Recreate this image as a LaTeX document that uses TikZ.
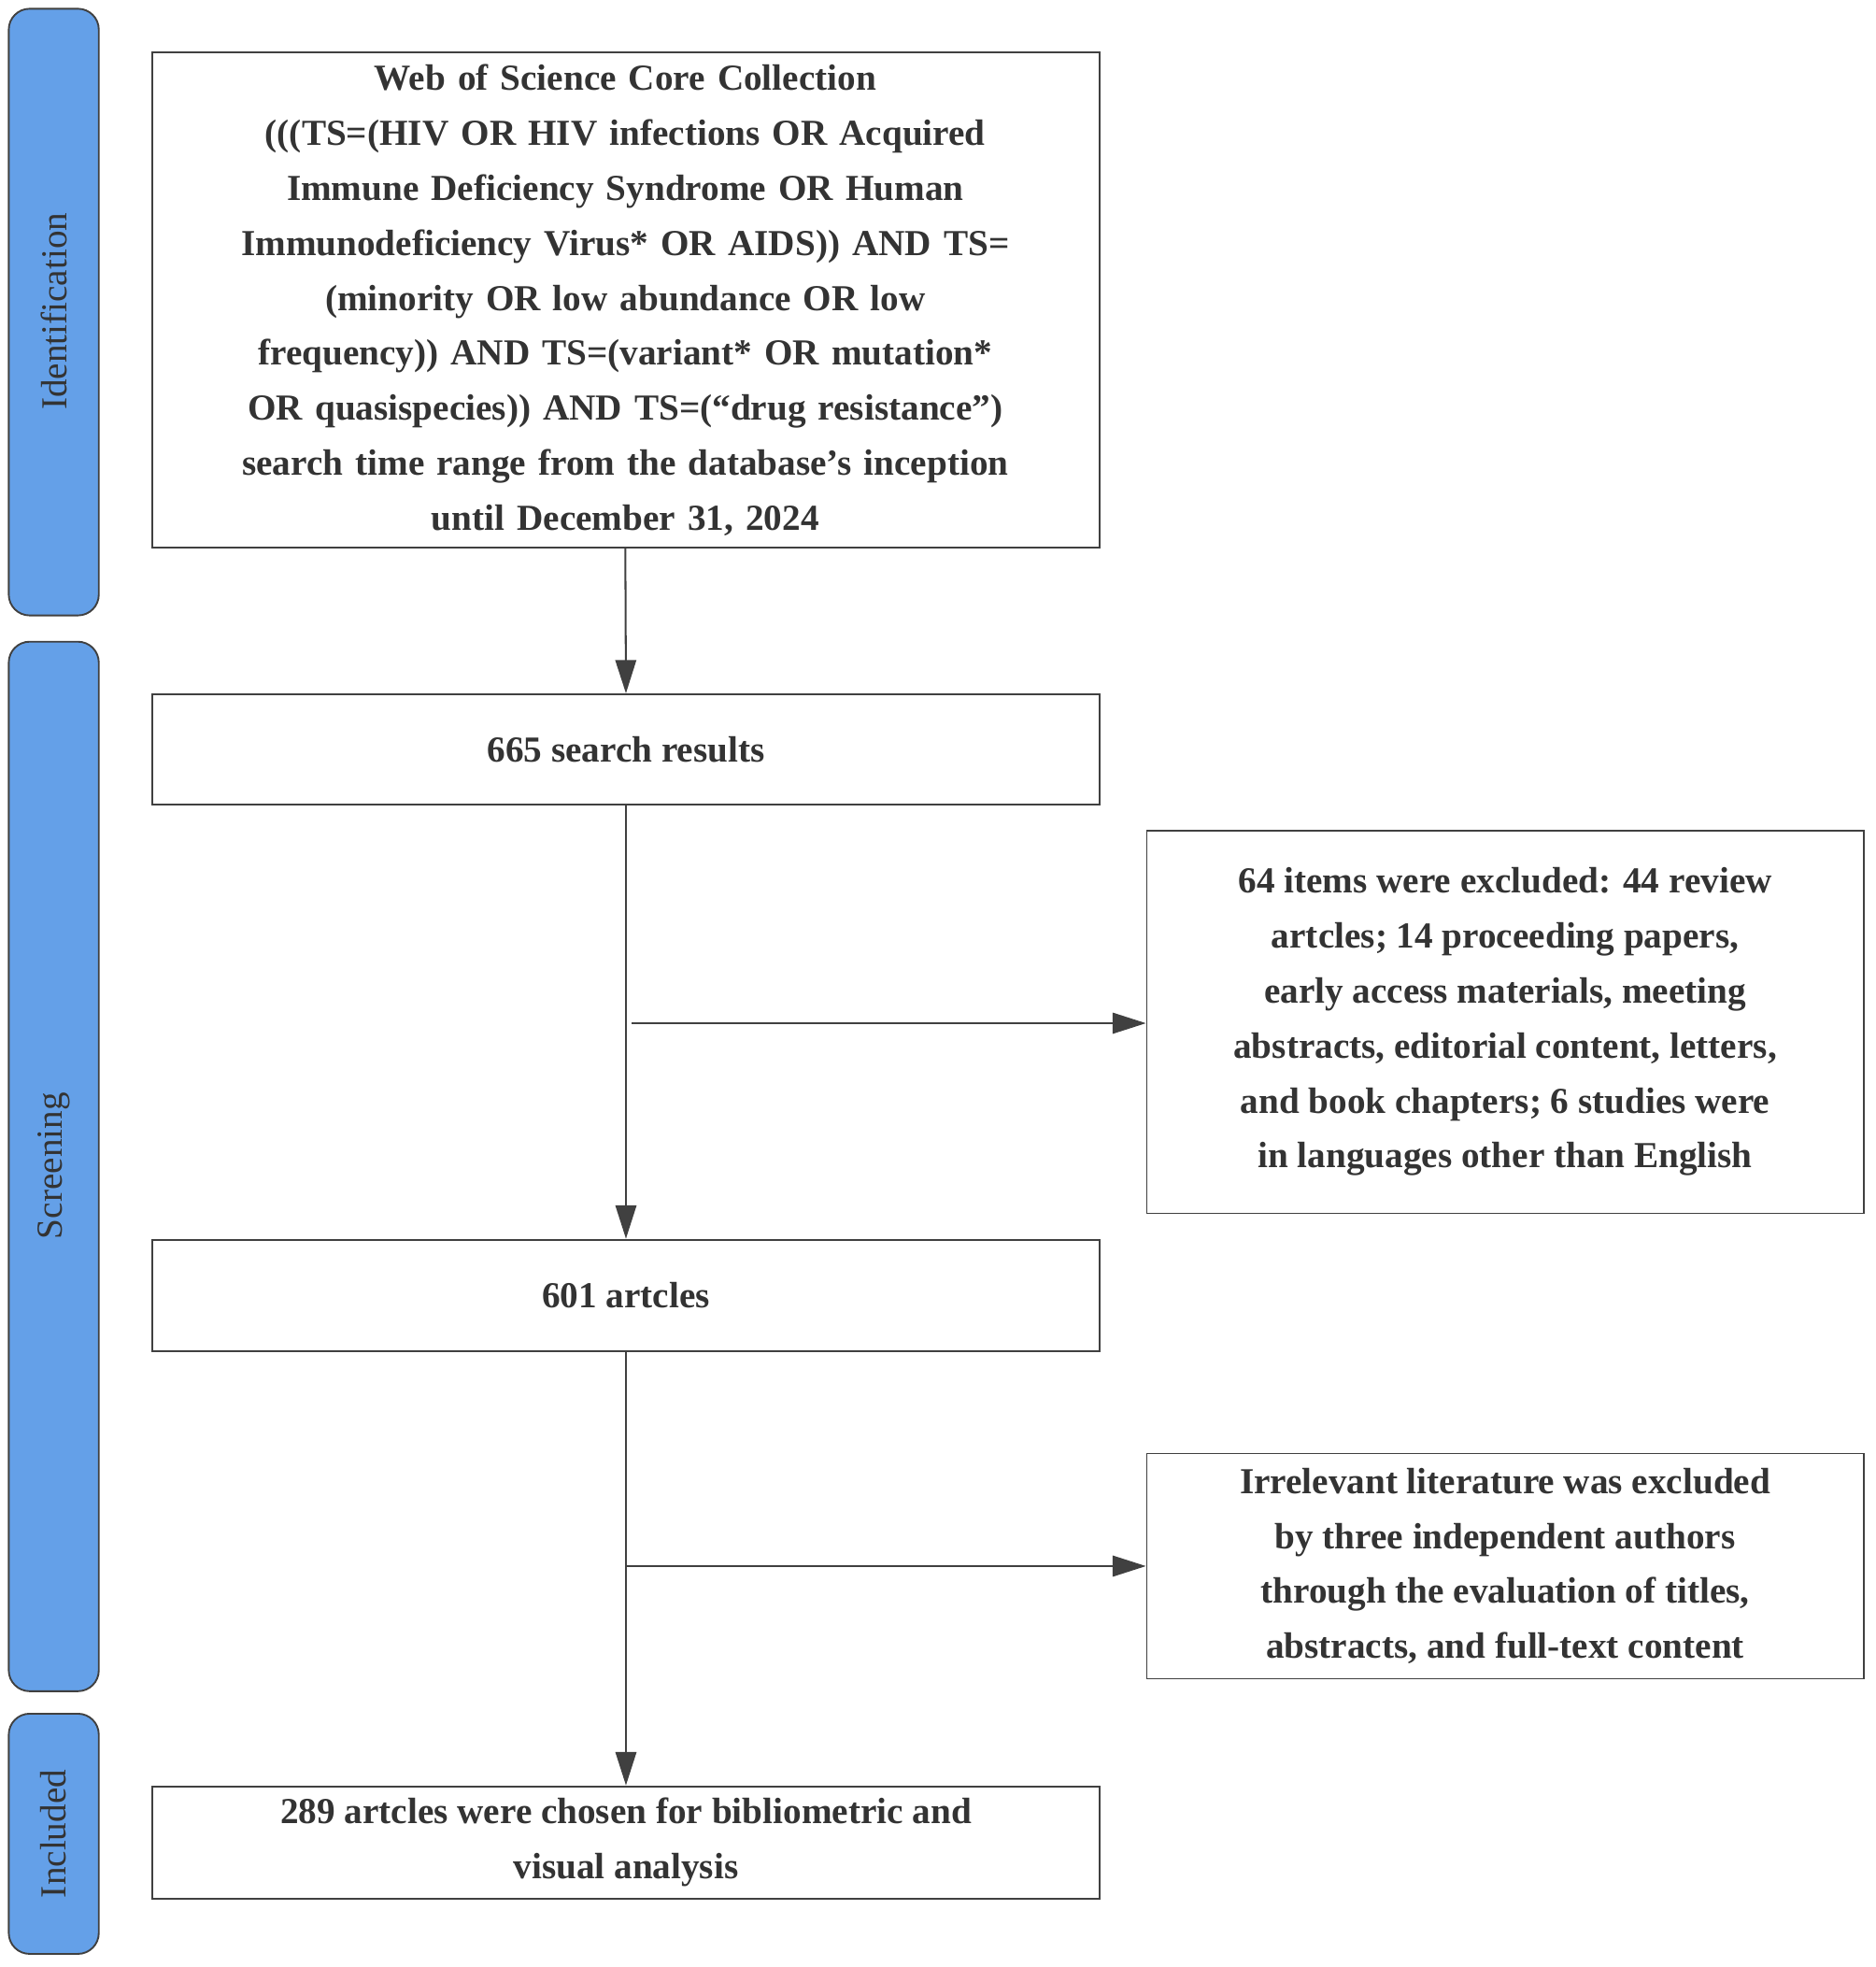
\documentclass[tikz,border=0pt]{standalone}
\usepackage{fontspec}
\setmainfont{Liberation Serif}
\usetikzlibrary{arrows.meta}
\begin{document}
\begin{tikzpicture}[x=0.3mm,y=-0.3mm,
  box/.style={draw=black!75,line width=1.2pt,fill=white,align=center,font=\fontsize{25}{37.5}\selectfont\bfseries,text=black!80,inner sep=0pt},
  side/.style={draw=black!75,line width=1.2pt,fill={rgb,255:red,100;green,160;blue,232},rounded corners=5mm},
  lab/.style={rotate=90,font=\fontsize{25}{30}\selectfont,text=black!80},
  arr/.style={draw=black!75,line width=1.3pt,-{Triangle[length=8mm,width=5mm]}}]
\useasboundingbox (0,0) rectangle (1500,1572.5);
\draw[side] (7,7) rectangle (79,492);
\draw[side] (7,513) rectangle (79,1352);
\draw[side] (7,1370) rectangle (79,1562);
\node[lab] (l1) at (43,249) {Identification};
\node[lab] (l2) at (43,932) {Screening};
\node[lab] (l3) at (43,1466) {Included};
\draw[box] (122,42) rectangle (879,438);
\node[box,draw=none,fill=none,text width=720\pgflinewidth] (b1t) at (500,240) {};
\node[align=center,font=\fontsize{25}{37.5}\selectfont\bfseries,text=black!80,text width=210mm] at (500,240) {Web of Science Core Collection\\
(((TS=(HIV OR HIV infections OR Acquired\\
Immune Deficiency Syndrome OR Human\\
Immunodeficiency Virus* OR AIDS)) AND TS=\\
(minority OR low abundance OR low\\
frequency)) AND TS=(variant* OR mutation*\\
OR quasispecies)) AND TS=(“drug resistance”)\\
search time range from the database’s inception\\
until December 31, 2024};
\coordinate (b1s) at (500,438);
\node[box,minimum width=227.1mm,minimum height=26.4mm] (b2) at (500.5,599) {665 search results};
\node[box,minimum width=171.9mm,minimum height=91.8mm] (b3) at (1203.5,817) {64 items were excluded: 44 review\\artcles; 14 proceeding papers,\\early access materials, meeting\\abstracts, editorial content, letters,\\and book chapters; 6 studies were\\in languages other than English};
\node[box,minimum width=227.1mm,minimum height=26.7mm] (b4) at (500.5,1035.5) {601 artcles};
\node[box,minimum width=171.9mm,minimum height=54mm] (b5) at (1203.5,1252) {Irrelevant literature was excluded\\by three independent authors\\through the evaluation of titles,\\abstracts, and full-text content};
\node[box,minimum width=227.1mm,minimum height=27mm] (b6) at (500.5,1473) {289 artcles were chosen for bibliometric and\\visual analysis};
\draw[arr] (b1s) -- (b2.north);
\draw[arr] (b2.south) -- (b4.north);
\draw[arr] (b4.south) -- (b6.north);
\coordinate (j1) at (505,818);
\coordinate (j2) at (500,1252);
\draw[arr] (j1) -- (j1 -| b3.west);
\draw[arr] (j2) -- (j2 -| b5.west);
\end{tikzpicture}
\end{document}
